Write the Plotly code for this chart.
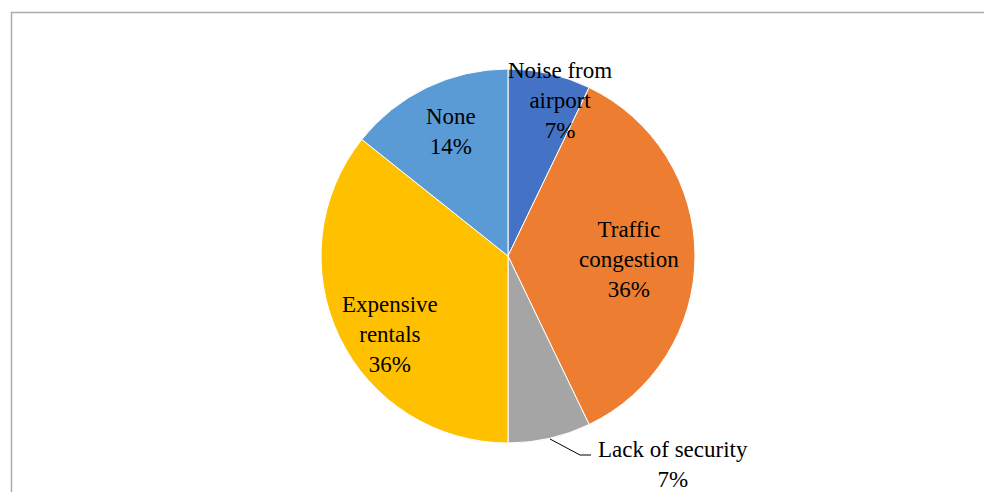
import plotly.graph_objects as go

# Data
categories = ["Noise from airport", "Traffic congestion", "Lack of security", "Expensive rentals", "None"]
counts = [1, 5, 1, 5, 2]
colors = ["#4472C4", "#ED7D31", "#A5A5A5", "#FFC000", "#5B9BD5"]
label_texts = ["Noise from<br>airport", "Traffic<br>congestion", "Lack of security", "Expensive<br>rentals", "None"]

W, H = 992, 492
OFF = 8  # page body margin
cx, cy, r = 508, 256, 187

def px(x):
    return (x - OFF) / W

def py(y):
    return 1 - (y - OFF) / H

fig = go.Figure()
fig.add_trace(go.Pie(
    labels=categories,
    values=counts,
    sort=False,
    direction="clockwise",
    rotation=0,
    marker=dict(colors=colors, line=dict(color="white", width=1)),
    textinfo="none",
    hoverinfo="label+percent",
    showlegend=False,
    domain=dict(x=[px(cx - r), px(cx + r)], y=[py(cy + r), py(cy - r)]),
))

total = sum(counts)
pcts = [round(100 * v / total) for v in counts]
label_pos = [(560, 100), (629, 259), (673, 464), (390, 334), (451, 132)]

font = dict(family="Liberation Serif, Times New Roman, serif", size=23, color="#000000")
annotations = []
for txt, p, (x, y) in zip(label_texts, pcts, label_pos):
    annotations.append(dict(
        x=px(x), y=py(y), xref="paper", yref="paper",
        text=f"{txt}<br>{p}%", showarrow=False,
        xanchor="center", yanchor="middle", align="center", font=font,
    ))

shapes = [
    # chart area border (extends beyond visible frame at right/bottom)
    dict(type="rect", xref="paper", yref="paper",
         x0=px(11.5), x1=px(1030), y0=py(12.5), y1=py(540),
         line=dict(color="#ABABAB", width=1.5), fillcolor="rgba(0,0,0,0)", layer="below"),
    # leader line for "Lack of security"
    dict(type="path", xref="paper", yref="paper",
         path=f"M {px(550)} {py(439)} L {px(580)} {py(455)} L {px(591)} {py(455)}",
         line=dict(color="#000000", width=1)),
]

fig.update_layout(
    width=W, height=H,
    margin=dict(l=0, r=0, t=0, b=0),
    paper_bgcolor="white", plot_bgcolor="white",
    annotations=annotations,
    shapes=shapes,
)

fig.write_html("out.html")
